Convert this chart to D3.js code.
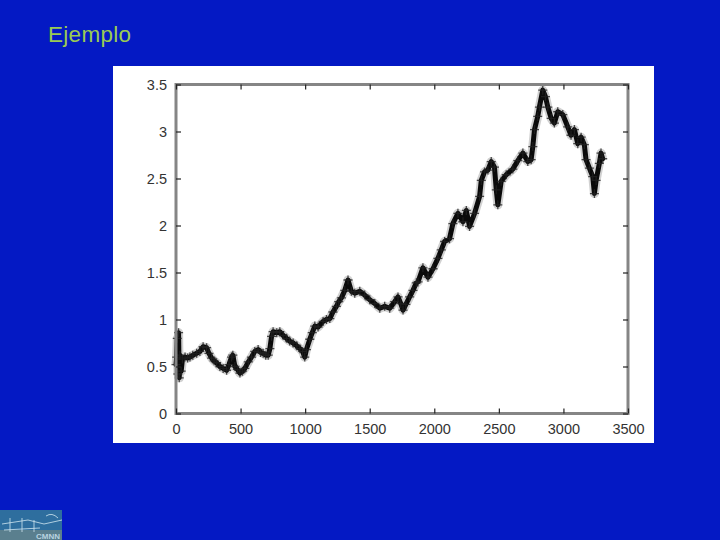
<!DOCTYPE html>
<html><head><meta charset="utf-8">
<script src="https://cdn.jsdelivr.net/npm/d3@7/dist/d3.min.js"></script>
<style>html,body{margin:0;padding:0;background:#0419c4;}svg{display:block;}</style>
</head><body>
<script>
const title = "Ejemplo";
const xTicks = [0, 500, 1000, 1500, 2000, 2500, 3000, 3500];
const yTicks = [0, 0.5, 1, 1.5, 2, 2.5, 3, 3.5];
const xValues = [0,5,10,15,20,25,30,40,50,70,90,108,130,160,185,210,237,255,276,295,314,340,365,392,410,430,440,456,475,495,515,533,560,585,610,636,655,675,695,714,727,740,752,780,804,830,856,880,907,935,959,980,997,1010,1036,1055,1075,1100,1139,1165,1191,1215,1242,1260,1281,1307,1332,1358,1384,1423,1461,1500,1539,1578,1616,1655,1693,1719,1740,1758,1780,1809,1835,1861,1874,1912,1951,1990,2028,2054,2080,2118,2144,2183,2222,2248,2273,2312,2351,2364,2389,2415,2441,2466,2480,2492,2518,2557,2608,2647,2686,2724,2750,2763,2776,2801,2814,2840,2861,2879,2905,2930,2956,2995,3033,3059,3085,3111,3137,3162,3175,3201,3227,3240,3253,3278,3291,3304];
const yValues = [0.52,0.60,0.80,0.42,0.86,0.38,0.62,0.45,0.58,0.60,0.59,0.60,0.62,0.64,0.66,0.71,0.70,0.64,0.59,0.56,0.54,0.50,0.48,0.46,0.52,0.60,0.62,0.50,0.47,0.43,0.45,0.48,0.55,0.60,0.66,0.68,0.65,0.64,0.62,0.62,0.69,0.82,0.87,0.86,0.87,0.83,0.80,0.77,0.75,0.72,0.69,0.66,0.60,0.68,0.79,0.86,0.93,0.92,0.98,1.00,1.01,1.08,1.14,1.19,1.23,1.31,1.42,1.30,1.28,1.30,1.26,1.21,1.17,1.12,1.14,1.12,1.19,1.24,1.17,1.10,1.16,1.24,1.31,1.39,1.40,1.55,1.45,1.54,1.65,1.74,1.83,1.86,2.02,2.13,2.04,2.16,1.99,2.13,2.31,2.48,2.57,2.59,2.68,2.62,2.38,2.22,2.47,2.54,2.60,2.69,2.77,2.68,2.70,2.84,3.02,3.16,3.26,3.44,3.37,3.26,3.14,3.09,3.21,3.18,3.05,2.96,3.02,2.87,2.94,2.86,2.70,2.61,2.52,2.34,2.48,2.66,2.77,2.71];

const W = 720, H = 540;
const svg = d3.select("body").append("svg").attr("width", W).attr("height", H);
svg.append("rect").attr("width", W).attr("height", H).attr("fill", "#0419c4");

const font = "Liberation Sans, Arial, sans-serif";
svg.append("text").attr("x", 48).attr("y", 42).text(title)
  .attr("font-family", font).attr("font-size", 22.5).attr("letter-spacing", 0.3)
  .attr("fill", "#9acb52");

// white picture panel
svg.append("rect").attr("x", 113).attr("y", 66).attr("width", 541).attr("height", 377).attr("fill", "#ffffff");

const x = d3.scaleLinear().domain([0, 3500]).range([176, 628]);
const y = d3.scaleLinear().domain([0, 3.5]).range([413.5, 84.5]);

const g = svg.append("g");

// data band
const pts = xValues.map((v, i) => [v, yValues[i]]);
const line = d3.line().x(d => x(d[0])).y(d => y(d[1]));
g.append("path").datum(pts).attr("d", line)
  .attr("fill", "none").attr("stroke", "#666").attr("stroke-width", 9)
  .attr("stroke-opacity", 0.3).attr("stroke-linejoin", "round");
g.append("path").datum(pts).attr("d", line)
  .attr("fill", "none").attr("stroke", "#0a0a0a").attr("stroke-width", 5)
  .attr("stroke-linejoin", "round").attr("stroke-linecap", "round");
const plus = {draw(ctx, s){const r=Math.sqrt(s)/2; ctx.moveTo(-r,0);ctx.lineTo(r,0);ctx.moveTo(0,-r);ctx.lineTo(0,r);}};
g.selectAll("path.mk").data(pts).join("path").attr("class", "mk")
  .attr("transform", d => `translate(${x(d[0])},${y(d[1])})`)
  .attr("d", d3.symbol().type(plus).size(81))
  .attr("stroke", "#222").attr("stroke-width", 1.3).attr("fill", "none").attr("stroke-opacity", 0.8);

// frame
g.append("rect").attr("x", 176).attr("y", 84.5).attr("width", 452).attr("height", 329)
  .attr("fill", "none").attr("stroke", "#858585").attr("stroke-width", 3);

// axes
const xb = svg.append("g").attr("transform", "translate(0,413.5)")
  .call(d3.axisBottom(x).tickValues(xTicks).tickSize(-5).tickPadding(10).tickFormat(d3.format("d")));
const xt = svg.append("g").attr("transform", "translate(0,84.5)")
  .call(d3.axisTop(x).tickValues(xTicks).tickSize(-5).tickFormat(""));
const yl = svg.append("g").attr("transform", "translate(176,0)")
  .call(d3.axisLeft(y).tickValues(yTicks).tickSize(-5).tickPadding(9).tickFormat(d => String(d)));
const yr = svg.append("g").attr("transform", "translate(628,0)")
  .call(d3.axisRight(y).tickValues(yTicks).tickSize(-5).tickFormat(""));
[xb, xt, yl, yr].forEach(a => {
  a.select(".domain").remove();
  a.selectAll(".tick line").attr("stroke", "#222").attr("stroke-width", 1.2);
  a.selectAll(".tick text").attr("font-family", font).attr("font-size", 14.5).attr("fill", "#333");
});

// logo in bottom-left
const logo = svg.append("g").attr("transform", "translate(0,510)");
logo.append("rect").attr("width", 62).attr("height", 30).attr("fill", "#2e6e9e");
logo.append("rect").attr("y", 20).attr("width", 62).attr("height", 10).attr("fill", "#5a7f8e");
logo.append("path").attr("d", "M2,14 L28,10 L44,14 L62,10 M4,20 L40,18 M10,8 L10,22 M22,8 L22,22 M34,10 L34,22 M46,6 Q52,2 58,8")
  .attr("stroke", "#cfe6f0").attr("stroke-width", 1).attr("fill", "none").attr("opacity", 0.8);
logo.append("text").attr("x", 36).attr("y", 29).text("CMNN").attr("font-family", font)
  .attr("font-size", 8).attr("font-weight", "bold").attr("fill", "#b8d4e0");
</script>
</body></html>
